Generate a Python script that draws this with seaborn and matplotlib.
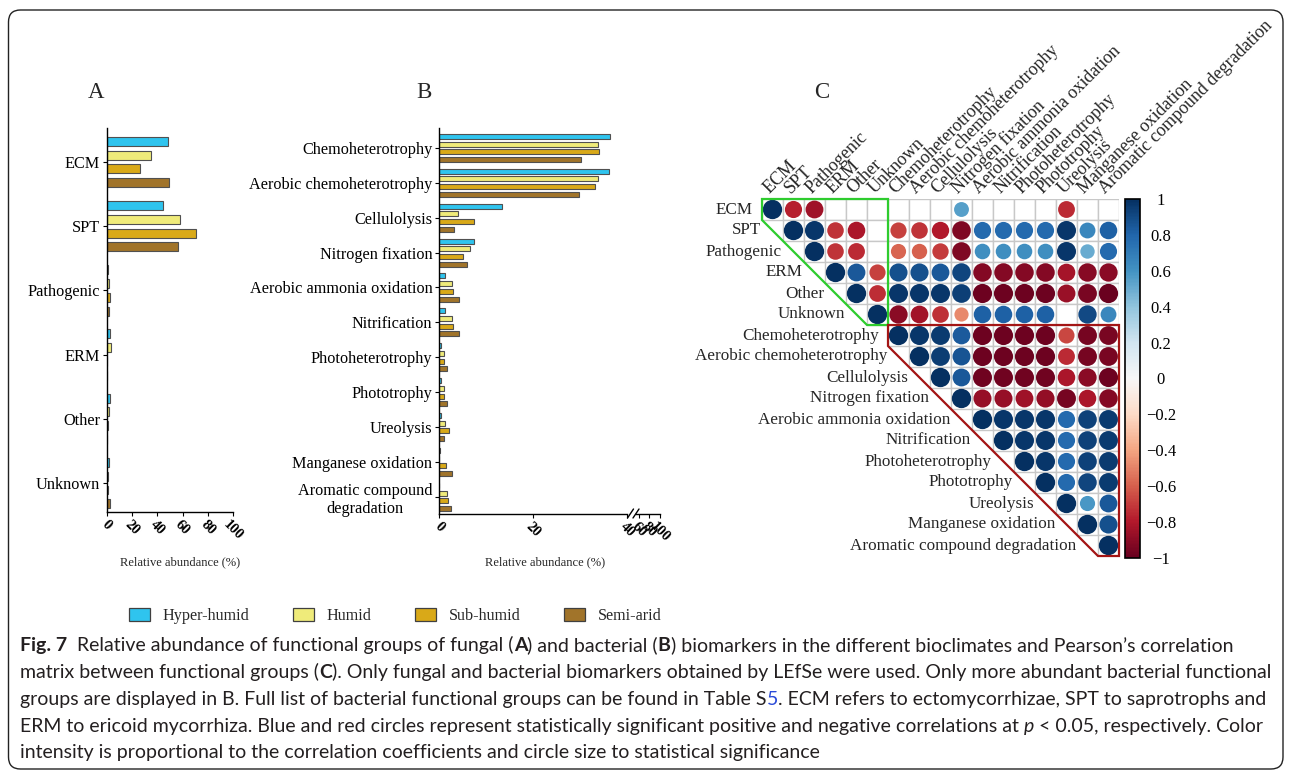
import numpy as np
import pandas as pd
import matplotlib
matplotlib.use("Agg")
import matplotlib.pyplot as plt
import seaborn as sns
from matplotlib.patches import Circle, Polygon, FancyBboxPatch, Patch, Rectangle
from matplotlib.collections import PatchCollection
from matplotlib.colors import Normalize
from matplotlib.cm import ScalarMappable
from matplotlib.lines import Line2D
from matplotlib.transforms import IdentityTransform

W, H = 1292, 774

# ---------------- data ----------------
climates = ["Hyper-humid", "Humid", "Sub-humid", "Semi-arid"]
climate_colors = ["#2fc4ee", "#efeb7a", "#d9a918", "#a1742a"]

fungal_groups = ["ECM", "SPT", "Pathogenic", "ERM", "Other", "Unknown"]
fungal_hyper = [48.8, 44.8, 0.5, 2.1, 2.1, 1.3]
fungal_humid = [35.0, 57.6, 1.6, 3.2, 1.3, 1.0]
fungal_subhumid = [26.0, 70.4, 2.7, 0.3, 0.5, 0.8]
fungal_semiarid = [49.6, 56.3, 1.6, 0.3, 0.3, 2.4]

bacterial_groups = ["Chemoheterotrophy", "Aerobic chemoheterotrophy", "Cellulolysis",
                    "Nitrogen fixation", "Aerobic ammonia oxidation", "Nitrification",
                    "Photoheterotrophy", "Phototrophy", "Ureolysis",
                    "Manganese oxidation", "Aromatic compound\ndegradation"]
bacterial_hyper = [36.3, 36.2, 13.4, 7.3, 1.2, 1.2, 0.4, 0.4, 0.3, 0.1, 0.0]
bacterial_humid = [33.9, 33.8, 3.9, 6.6, 2.6, 2.6, 1.1, 1.1, 1.3, 0.0, 1.7]
bacterial_subhumid = [34.0, 33.2, 7.3, 5.1, 2.9, 2.9, 1.1, 1.1, 2.1, 1.4, 1.9]
bacterial_semiarid = [30.2, 29.8, 3.1, 5.9, 4.2, 4.2, 1.7, 1.7, 1.1, 2.7, 2.4]

corr_labels = ["ECM", "SPT", "Pathogenic", "ERM", "Other", "Unknown",
               "Chemoheterotrophy", "Aerobic chemoheterotrophy", "Cellulolysis",
               "Nitrogen fixation", "Aerobic ammonia oxidation", "Nitrification",
               "Photoheterotrophy", "Phototrophy", "Ureolysis", "Manganese oxidation",
               "Aromatic compound degradation"]
# upper triangle, each row starting at the diagonal; None = not significant
corr_ecm = [1, -0.78, -0.85, None, None, None, None, None, None, 0.55, None, None, None, None, -0.75, None, None]
corr_spt = [1, 0.97, -0.72, -0.82, None, -0.68, -0.72, -0.8, -0.93, 0.78, 0.78, 0.78, 0.78, 0.97, 0.65, 0.82]
corr_pathogenic = [1, -0.72, -0.75, None, -0.58, -0.6, -0.7, -0.93, 0.62, 0.62, 0.62, 0.62, 0.97, 0.5, 0.78]
corr_erm = [1, 0.85, -0.68, 0.88, 0.88, 0.85, 0.92, -0.92, -0.92, -0.92, -0.92, -0.83, -0.91, -0.9]
corr_other = [1, -0.74, 0.97, 0.97, 0.97, 0.94, -0.98, -0.98, -0.98, -0.98, -0.86, -0.95, -0.99]
corr_unknown = [1, -0.9, -0.84, -0.73, -0.48, 0.82, 0.82, 0.82, 0.82, None, 0.9, 0.65]
corr_chemo = [1, 0.97, 0.96, 0.84, -0.98, -0.98, -0.98, -0.98, -0.67, -0.96, -0.95]
corr_aerochemo = [1, 0.95, 0.86, -0.98, -0.98, -0.98, -0.98, -0.75, -0.96, -0.95]
corr_cellulolysis = [1, 0.85, -0.97, -0.97, -0.97, -0.97, -0.82, -0.9, -0.98]
corr_nfix = [1, -0.87, -0.87, -0.85, -0.88, -0.96, -0.82, -0.92]
corr_aao = [1, 0.97, 0.97, 0.97, 0.78, 0.93, 0.96]
corr_nitrif = [1, 0.97, 0.97, 0.78, 0.93, 0.96]
corr_photohet = [1, 0.97, 0.78, 0.93, 0.96]
corr_phototr = [1, 0.78, 0.92, 0.96]
corr_ureol = [1, 0.58, 0.85]
corr_mn = [1, 0.88]
corr_arom = [1]
corr_rows = [corr_ecm, corr_spt, corr_pathogenic, corr_erm, corr_other, corr_unknown,
             corr_chemo, corr_aerochemo, corr_cellulolysis, corr_nfix, corr_aao,
             corr_nitrif, corr_photohet, corr_phototr, corr_ureol, corr_mn, corr_arom]
block_starts = [0, 6]  # first row of the fungal and bacterial blocks

# ---------------- style ----------------
sns.set_style("ticks")
plt.rcParams["font.family"] = ["Liberation Serif", "DejaVu Serif"]
plt.rcParams["axes.linewidth"] = 1.0
plt.rcParams["axes.edgecolor"] = "black"
plt.rcParams["xtick.color"] = "black"
plt.rcParams["ytick.color"] = "black"

fig = plt.figure(figsize=(W / 100, H / 100), dpi=100)


def add_axes_px(x0, y0, x1, y1):
    return fig.add_axes([x0 / W, 1 - y1 / H, (x1 - x0) / W, (y1 - y0) / H])


def long_table(groups, series):
    rows = []
    for clim, vals in zip(climates, series):
        for g, v in zip(groups, vals):
            rows.append({"group": g, "climate": clim, "abundance": v})
    return pd.DataFrame(rows)


def style_bar_axes(ax, ytick_size, keep_left=True):
    sns.despine(ax=ax, left=not keep_left)
    ax.set_xlabel("")
    ax.set_ylabel("")
    ax.tick_params(axis="y", length=3, width=0.8, pad=2, labelsize=ytick_size)
    ax.tick_params(axis="x", length=3, width=0.8, pad=1, labelsize=10.5)
    for lab in ax.get_xticklabels():
        lab.set_fontweight("bold")
        lab.set_rotation(-45)
        lab.set_ha("center")


bar_kw = dict(orient="h", hue_order=climates, palette=climate_colors, saturation=1,
              edgecolor="#505050", linewidth=0.8, errorbar=None, legend=False)

# ---------------- panel A ----------------
axA = add_axes_px(107, 128, 233, 512)
dfA = long_table(fungal_groups, [fungal_hyper, fungal_humid, fungal_subhumid, fungal_semiarid])
sns.barplot(data=dfA, x="abundance", y="group", hue="climate", order=fungal_groups,
            width=0.86, gap=0.35, ax=axA, **bar_kw)
axA.set_xlim(0, 100)
axA.set_ylim(5.45, -0.53)
axA.set_xticks([0, 20, 40, 60, 80, 100])
style_bar_axes(axA, 11.7)

# ---------------- panel B (broken x axis) ----------------
axB = add_axes_px(439.3, 128, 627, 514)
dfB = long_table(bacterial_groups, [bacterial_hyper, bacterial_humid, bacterial_subhumid, bacterial_semiarid])
sns.barplot(data=dfB, x="abundance", y="group", hue="climate", order=bacterial_groups,
            width=0.88, gap=0.35, ax=axB, **bar_kw)
axB.set_xlim(0, 40)
axB.set_ylim(10.49, -0.57)
axB.set_xticks([0, 20, 40])
style_bar_axes(axB, 11.7)
for lab in axB.get_yticklabels():
    lab.set_multialignment("center")

axB2 = add_axes_px(636, 128, 660, 514)
axB2.set_xlim(55, 100)
axB2.set_ylim(10.49, -0.57)
axB2.set_xticks([60, 80, 100])
axB2.set_yticks([])
axB2.patch.set_alpha(0)
style_bar_axes(axB2, 11.7, keep_left=False)

for xb in (630.5, 636.0):
    fig.add_artist(Line2D([(xb - 3) / W, (xb + 3) / W], [1 - 518 / H, 1 - 509 / H],
                          transform=fig.transFigure, color="black", lw=1.0))

# axis titles and panel letters
for cx in (180, 545):
    fig.text(cx / W, 1 - 562 / H, "Relative abundance (%)", ha="center", va="center", fontsize=9)
for letter, cx in (("A", 96), ("B", 424), ("C", 822)):
    fig.text(cx / W, 1 - 93 / H, letter, ha="center", va="center", fontsize=16.5)

# ---------------- panel C: correlation matrix ----------------
n = len(corr_labels)
corr = np.full((n, n), np.nan)
for i, row in enumerate(corr_rows):
    for k, v in enumerate(row):
        if v is not None:
            corr[i, i + k] = v

axC = add_axes_px(762, 199, 1119, 556)
axC.set_xlim(0, n)
axC.set_ylim(n, 0)

# grid of the upper triangle
cells = [Rectangle((j, i), 1, 1) for i in range(n) for j in range(i, n)]
axC.add_collection(PatchCollection(cells, facecolor="white", edgecolor="#c8c8c8",
                                   linewidth=1.0, zorder=1))

cmap = plt.get_cmap("RdBu")
norm = Normalize(-1, 1)
for i in range(n):
    for j in range(i, n):
        r = corr[i, j]
        if np.isnan(r):
            continue
        radius = 0.5 * (0.45 + 0.47 * abs(r))
        axC.add_patch(Circle((j + 0.5, i + 0.5), radius, facecolor=cmap(norm(r)),
                             edgecolor="none", zorder=3))

fungal_outline = Polygon([(0, 0), (6, 0), (6, 6), (5, 6), (0, 1)], closed=True,
                         fill=False, edgecolor="#2ecc2e", lw=1.6, zorder=4, clip_on=False)
bact_outline = Polygon([(6, 6), (17, 6), (17, 17), (16, 17), (6, 7)], closed=True,
                       fill=False, edgecolor="#a31515", lw=1.6, zorder=4, clip_on=False)
axC.add_patch(fungal_outline)
axC.add_patch(bact_outline)

for i, lab in enumerate(corr_labels):
    off = 0.45 if i in block_starts else 1.05
    axC.text(i - off, i + 0.5, lab, ha="right", va="center", fontsize=12.3, clip_on=False)
    axC.text(i + 0.35, -0.22, lab, ha="left", va="baseline", rotation=45,
             rotation_mode="anchor", fontsize=13, clip_on=False)
axC.axis("off")

cax = add_axes_px(1125, 199, 1140, 558)
sm = ScalarMappable(norm=norm, cmap=cmap)
cb = fig.colorbar(sm, cax=cax)
cb_ticks = np.round(np.linspace(-1, 1, 11), 1)
cb.set_ticks(cb_ticks)


def cb_fmt(v):
    if abs(v) < 1e-9:
        return "0"
    s = f"{abs(v):g}"
    return ("\u2212" + s) if v < 0 else s


cb.set_ticklabels([cb_fmt(v) for v in cb_ticks])
cb.ax.tick_params(length=0, pad=15, labelsize=12)
for lab in cb.ax.get_yticklabels():
    lab.set_ha("center")
cb.outline.set_linewidth(1.2)
cb.outline.set_edgecolor("black")

# ---------------- legend ----------------
handles = [Patch(facecolor=c, edgecolor="#404040", lw=0.9) for c in climate_colors]
fig.legend(handles, climates, loc="center left", bbox_to_anchor=(129 / W, 1 - 616 / H),
           ncol=4, frameon=False, fontsize=11.6, handlelength=1.3, handleheight=0.8,
           handletextpad=0.8, columnspacing=2.7, borderpad=0, borderaxespad=0)

# ---------------- caption ----------------
renderer = fig.canvas.get_renderer()
cap_family = ["Lato", "DejaVu Sans"]
cap_color = "#231f20"


def text_width(s, **kw):
    t = fig.text(0, 0, "|" + s + "|", **kw)
    w1 = t.get_window_extent(renderer).width
    t.set_text("||")
    w0 = t.get_window_extent(renderer).width
    t.remove()
    return w1 - w0


line5 = "intensity is proportional to the correlation coefficients and circle size to statistical significance"
base = 12.0
cap_size = base * 795 / text_width(line5, fontsize=base, family=cap_family)

normal = {}
bold = {"fontweight": "bold"}
italic = {"fontstyle": "italic"}
link = {"color": "#2b4bd8"}

caption_lines = [
    [("Fig. 7", bold), ("  Relative abundance of functional groups of fungal (", normal), ("A", bold),
     (") and bacterial (", normal), ("B", bold),
     (") biomarkers in the different bioclimates and Pearson\u2019s correlation", normal)],
    [("matrix between functional groups (", normal), ("C", bold),
     ("). Only fungal and bacterial biomarkers obtained by LEfSe were used. Only more abundant bacterial functional", normal)],
    [("groups are displayed in B. Full list of bacterial functional groups can be found in Table S", normal),
     ("5", link), (". ECM refers to ectomycorrhizae, SPT to saprotrophs and", normal)],
    [("ERM to ericoid mycorrhiza. Blue and red circles represent statistically significant positive and negative correlations at ", normal),
     ("p", italic), (" < 0.05, respectively. Color", normal)],
    [(line5, normal)],
]
baselines = [651, 678, 705, 732, 758]
for pieces, yb in zip(caption_lines, baselines):
    x = 20.0
    for txt, style in pieces:
        kw = dict(fontsize=cap_size, family=cap_family, color=cap_color)
        kw.update(style)
        fig.text(x / W, 1 - yb / H, txt, ha="left", va="baseline", **kw)
        x += text_width(txt, **kw)

# ---------------- frame ----------------
frame = FancyBboxPatch((8.5, H - 769), 1283 - 8.5, 769 - 10,
                       boxstyle="round,pad=0,rounding_size=12", transform=IdentityTransform(),
                       fill=False, edgecolor="#222222", lw=1.0)
fig.add_artist(frame)

fig.savefig("out.png", dpi=100)
